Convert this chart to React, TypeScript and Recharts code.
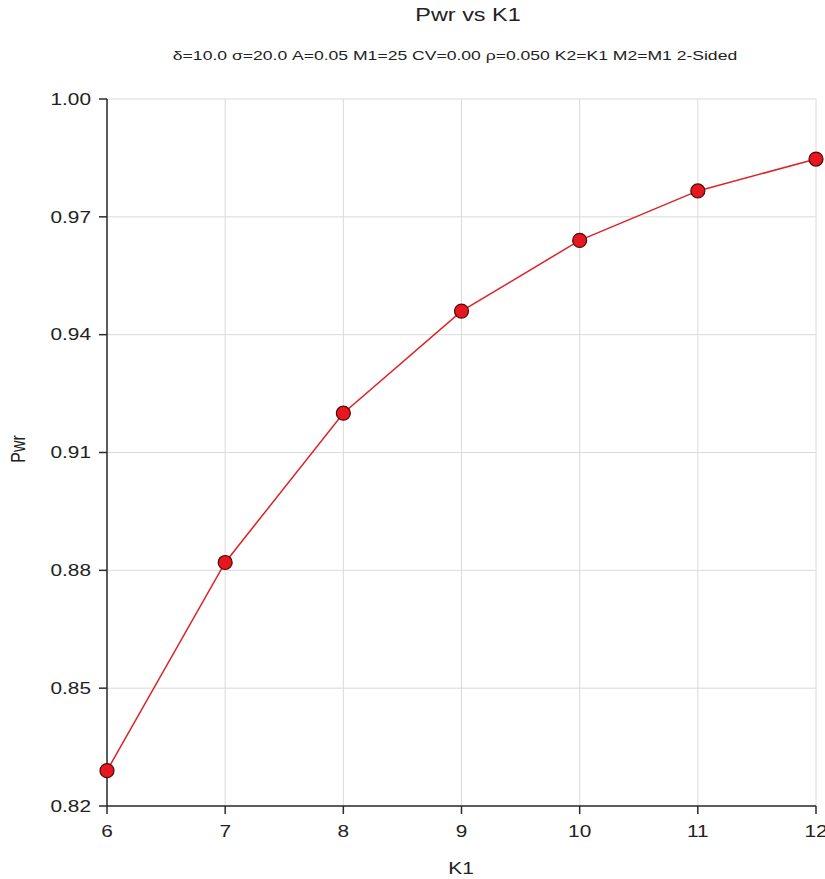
import React from 'react';
import {
  LineChart,
  Line,
  XAxis,
  YAxis,
  CartesianGrid,
} from 'recharts';

// values
const K1_VALUES = [6, 7, 8, 9, 10, 11, 12];
const PWR_VALUES = [0.829, 0.882, 0.92, 0.946, 0.964, 0.9766, 0.9847];
const X_TICKS = [6, 7, 8, 9, 10, 11, 12];
const Y_TICKS = [0.82, 0.85, 0.88, 0.91, 0.94, 0.97, 1.0];

const TITLE = 'Pwr vs K1';
const SUBTITLE = 'δ=10.0 σ=20.0 A=0.05 M1=25 CV=0.00 ρ=0.050 K2=K1 M2=M1 2-Sided';

const FONT = 'Arial, "Liberation Sans", Helvetica, sans-serif';
const STRETCH = 1.3; // the reference text is wider than it is tall
const AXIS_COLOR = '#2b2b2b';
const GRID_COLOR = '#dadada';
const LINE_COLOR = '#dc2328';

const W = 825;
const H = 879;

const data = K1_VALUES.map((k, i) => ({ k1: k, pwr: PWR_VALUES[i] }));

const XTick = (props: any) => {
  const { x, y, payload } = props;
  return (
    <g transform={`translate(${x},${y}) scale(${STRETCH},1)`}>
      <text x={0} y={0} dy="0.71em" textAnchor="middle" fill="#222" fontSize={16} fontFamily={FONT}>
        {payload.value}
      </text>
    </g>
  );
};

const YTick = (props: any) => {
  const { x, y, payload } = props;
  return (
    <g transform={`translate(${x},${y}) scale(${STRETCH},1)`}>
      <text x={0} y={0} dy="0.355em" textAnchor="end" fill="#222" fontSize={16} fontFamily={FONT}>
        {Number(payload.value).toFixed(2)}
      </text>
    </g>
  );
};

const overlay = (left: number, top: number, size: number, extra = ''): React.CSSProperties => ({
  position: 'absolute',
  left,
  top,
  fontFamily: FONT,
  fontSize: size,
  lineHeight: 1,
  color: '#222',
  whiteSpace: 'nowrap',
  transform: `translate(-50%, -50%) scaleX(${STRETCH}) ${extra}`,
});

export default function App() {
  return (
    <div style={{ position: 'absolute', left: 0, top: 0, width: W, height: H, background: '#fff' }}>
      <LineChart width={W} height={H} data={data} margin={{ top: 99, right: 9, bottom: 0, left: 0 }}>
        <CartesianGrid stroke={GRID_COLOR} strokeWidth={1} />
        <XAxis
          dataKey="k1"
          type="number"
          domain={[6, 12]}
          ticks={X_TICKS}
          height={73}
          tickSize={8}
          tickMargin={12}
          tick={<XTick />}
          stroke={AXIS_COLOR}
          strokeWidth={1.5}
        />
        <YAxis
          type="number"
          domain={[0.82, 1.0]}
          ticks={Y_TICKS}
          width={107}
          tickSize={8}
          tickMargin={8}
          tick={<YTick />}
          stroke={AXIS_COLOR}
          strokeWidth={1.5}
        />
        <Line
          type="linear"
          dataKey="pwr"
          stroke={LINE_COLOR}
          strokeWidth={1.5}
          dot={{ r: 7, fill: '#e8161e', stroke: '#4a0a0a', strokeWidth: 1.2, fillOpacity: 1 }}
          isAnimationActive={false}
        />
      </LineChart>

      <div style={overlay(468, 15, 18)}>{TITLE}</div>
      <div style={overlay(455, 56, 13.5)}>{SUBTITLE}</div>
      <div style={overlay(18, 449, 16, 'rotate(-90deg)')}>Pwr</div>
      <div style={overlay(461, 869, 16)}>K1</div>
    </div>
  );
}
